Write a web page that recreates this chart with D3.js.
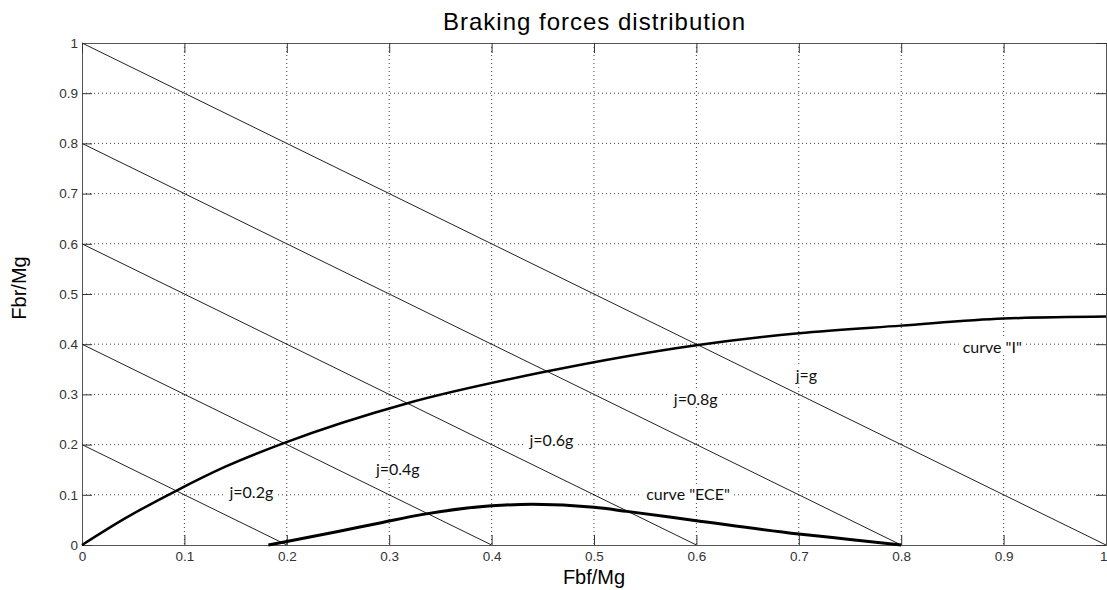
<!DOCTYPE html>
<html>
<head>
<meta charset="utf-8">
<script src="https://cdn.jsdelivr.net/npm/d3@7"></script>
<style>
  body { margin: 0; background: #fff; }
  svg { display: block; }
  .tick text { font-family: "Liberation Sans", Arial, sans-serif; font-size: 13.5px; fill: #333; }
  .note { font-family: Lato, "Open Sans", sans-serif; font-size: 16px; fill: #111; }
</style>
</head>
<body>
<div id="chart"></div>
<script>
// tick values on both axes
var xTicks = [0, 0.1, 0.2, 0.3, 0.4, 0.5, 0.6, 0.7, 0.8, 0.9, 1];
var yTicks = [0, 0.1, 0.2, 0.3, 0.4, 0.5, 0.6, 0.7, 0.8, 0.9, 1];

// deceleration lines j = const : Fbf + Fbr = j
var jValues = [0.2, 0.4, 0.6, 0.8, 1.0];

// curve "I" (ideal distribution)
var idealX = [0, 0.042, 0.091, 0.14, 0.197, 0.317, 0.452, 0.60, 0.70, 0.80, 0.90, 1.0];
var idealY = [0, 0.053, 0.107, 0.156, 0.203, 0.282, 0.345, 0.398, 0.422, 0.437, 0.451, 0.455];

// curve "ECE"
var eceX = [0.182, 0.195, 0.25, 0.291, 0.333, 0.40, 0.44, 0.50, 0.532, 0.60, 0.70, 0.75, 0.80];
var eceY = [0, 0.005, 0.027, 0.044, 0.061, 0.078, 0.081, 0.075, 0.067, 0.0485, 0.022, 0.011, 0];

// annotations (data coordinates of the text's left / middle)
var noteText = ["j=0.2g", "j=0.4g", "j=0.6g", "j=0.8g", "j=g", 'curve "ECE"', 'curve "I"'];
var noteX = [0.144, 0.287, 0.437, 0.578, 0.697, 0.551, 0.860];
var noteY = [0.105, 0.151, 0.209, 0.290, 0.338, 0.101, 0.394];

var width = 1107, height = 590;
var margin = { left: 82, right: 1, top: 43, bottom: 45 };
var W = width - margin.left - margin.right;
var H = height - margin.top - margin.bottom;

var svg = d3.select("#chart").append("svg")
    .attr("width", width)
    .attr("height", height);

var x = d3.scaleLinear().domain([0, 1]).range([0, W]);
var y = d3.scaleLinear().domain([0, 1]).range([H, 0]);

var g = svg.append("g")
    .attr("transform", "translate(" + margin.left + "," + margin.top + ")");

// grid
var gridX = xTicks.filter(function(d) { return d > 0 && d < 1; });
var gridY = yTicks.filter(function(d) { return d > 0 && d < 1; });
g.append("g").selectAll("line")
    .data(gridX).enter().append("line")
    .attr("x1", d => x(d)).attr("x2", d => x(d))
    .attr("y1", 0).attr("y2", H)
    .attr("stroke", "#444").attr("stroke-dasharray", "1,3");
g.append("g").selectAll("line")
    .data(gridY).enter().append("line")
    .attr("y1", d => y(d)).attr("y2", d => y(d))
    .attr("x1", 0).attr("x2", W)
    .attr("stroke", "#444").attr("stroke-dasharray", "1,3");

// axes, ticks inside like matlab
var fmt = function(d) { return String(+d.toFixed(1)); };
var axB = g.append("g").attr("transform", "translate(0," + H + ")")
    .call(d3.axisBottom(x).tickValues(xTicks).tickFormat(fmt).tickSizeInner(-10).tickSizeOuter(0).tickPadding(5));
var axL = g.append("g")
    .call(d3.axisLeft(y).tickValues(yTicks).tickFormat(fmt).tickSizeInner(-10).tickSizeOuter(0).tickPadding(4));
var axT = g.append("g")
    .call(d3.axisTop(x).tickValues(xTicks).tickFormat("").tickSizeInner(-10).tickSizeOuter(0));
var axR = g.append("g").attr("transform", "translate(" + W + ",0)")
    .call(d3.axisRight(y).tickValues(yTicks).tickFormat("").tickSizeInner(-10).tickSizeOuter(0));
[axB, axL, axT, axR].forEach(function(a) {
    a.select(".domain").attr("stroke", "#555");
    a.selectAll(".tick line").attr("stroke", "#333");
});
axB.selectAll(".tick text").attr("dy", "0.85em");
// last label sits on the window edge, keep it inside
axB.selectAll(".tick text").filter(d => d === 1).attr("text-anchor", "end").attr("dx", 1);

// j lines
g.append("g").selectAll("line")
    .data(jValues).enter().append("line")
    .attr("x1", x(0)).attr("y1", d => y(d))
    .attr("x2", d => x(d)).attr("y2", y(0))
    .attr("stroke", "#222").attr("stroke-width", 1);

var line = d3.line().x(d => x(d[0])).y(d => y(d[1])).curve(d3.curveMonotoneX);

g.append("path")
    .datum(d3.zip(idealX, idealY))
    .attr("d", line)
    .attr("fill", "none").attr("stroke", "#000").attr("stroke-width", 2.5)
    .attr("stroke-linejoin", "round");

g.append("path")
    .datum(d3.zip(eceX, eceY))
    .attr("d", line)
    .attr("fill", "none").attr("stroke", "#000").attr("stroke-width", 3)
    .attr("stroke-linejoin", "round");

// annotations with white boxes
var notes = g.append("g").selectAll("g")
    .data(d3.zip(noteText, noteX, noteY)).enter().append("g")
    .attr("transform", d => "translate(" + x(d[1]) + "," + y(d[2]) + ")");
var nt = notes.append("text")
    .attr("class", "note")
    .attr("dy", "0.35em")
    .text(d => d[0]);
nt.each(function() {
    var b = this.getBBox();
    d3.select(this.parentNode).insert("rect", "text")
        .attr("x", b.x - 4).attr("y", b.y + 2)
        .attr("width", b.width + 8).attr("height", b.height - 4)
        .attr("fill", "#fff");
});

// title and axis labels
svg.append("text")
    .attr("x", margin.left + W / 2).attr("y", 30)
    .attr("text-anchor", "middle")
    .attr("textLength", 302).attr("lengthAdjust", "spacing")
    .style("font-family", "'Liberation Sans', Arial, sans-serif")
    .style("font-size", "24px")
    .text("Braking forces distribution");

svg.append("text")
    .attr("x", margin.left + W / 2).attr("y", 584)
    .attr("text-anchor", "middle")
    .style("font-family", "'Liberation Sans', Arial, sans-serif")
    .style("font-size", "20px")
    .text("Fbf/Mg");

svg.append("text")
    .attr("transform", "translate(26," + (margin.top + H / 2 - 6) + ") rotate(-90)")
    .attr("text-anchor", "middle")
    .style("font-family", "'Liberation Sans', Arial, sans-serif")
    .style("font-size", "20px")
    .text("Fbr/Mg");
</script>
</body>
</html>
